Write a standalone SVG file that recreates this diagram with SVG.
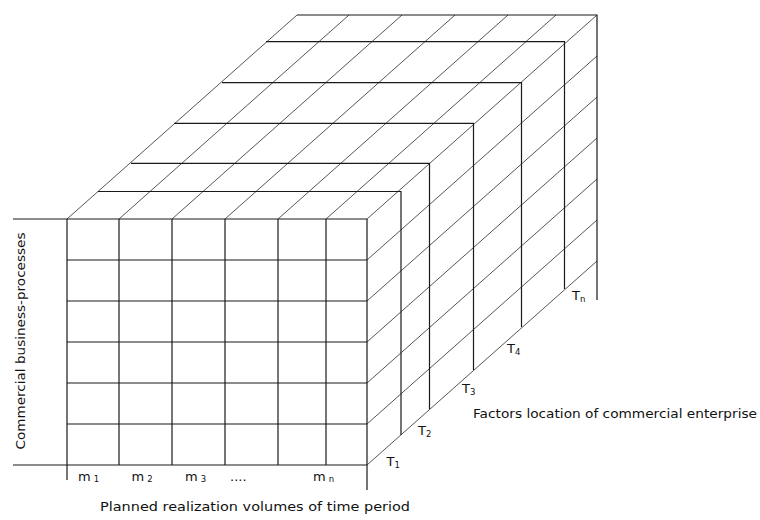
<svg xmlns="http://www.w3.org/2000/svg" width="760" height="520" viewBox="0 0 760 520">
<style>
.hv{stroke:#1a1a1a;stroke-width:1.2;fill:none}
.dg{stroke:#555;stroke-width:1;fill:none}
text{font-family:"DejaVu Sans","Liberation Sans",sans-serif;fill:#111}
.lbl{font-size:12.5px}
.ax{font-size:13px}
.sub{font-size:8.5px}
</style>
<rect width="760" height="520" fill="#fff"/>
<g id="connectors">
<!-- top face diagonals -->
<g class="dg">
<line x1="67" y1="219" x2="297" y2="15"/>
<line x1="119" y1="219" x2="349" y2="15"/>
<line x1="172" y1="219" x2="402" y2="15"/>
<line x1="225" y1="219" x2="455" y2="15"/>
<line x1="278" y1="219" x2="508" y2="15"/>
<line x1="326" y1="219" x2="556" y2="15"/>
<line x1="367" y1="219" x2="597" y2="15"/>
<!-- right face diagonals -->
<line x1="367" y1="260" x2="597" y2="56"/>
<line x1="367" y1="301" x2="597" y2="97"/>
<line x1="367" y1="342" x2="597" y2="138"/>
<line x1="367" y1="383" x2="597" y2="179"/>
<line x1="367" y1="424" x2="597" y2="220"/>
<line x1="367" y1="465" x2="597" y2="261"/>
</g>
</g>
<g id="front-face" class="hv">
<line x1="13" y1="219" x2="367" y2="219"/>
<line x1="67" y1="260" x2="367" y2="260"/>
<line x1="67" y1="301" x2="367" y2="301"/>
<line x1="67" y1="342" x2="367" y2="342"/>
<line x1="67" y1="383" x2="367" y2="383"/>
<line x1="67" y1="424" x2="367" y2="424"/>
<line x1="13" y1="465" x2="367" y2="465"/>
<line x1="67" y1="219" x2="67" y2="480"/>
<line x1="119" y1="219" x2="119" y2="465"/>
<line x1="172" y1="219" x2="172" y2="465"/>
<line x1="225" y1="219" x2="225" y2="465"/>
<line x1="278" y1="219" x2="278" y2="465"/>
<line x1="326" y1="219" x2="326" y2="465"/>
<line x1="367" y1="219" x2="367" y2="490"/>
</g>
<g id="slice-T2" class="hv">
<polyline points="98,191.5 401,191.5 401,435"/>
</g>
<g id="slice-T3" class="hv">
<polyline points="131,163.3 429.5,163.3 429.5,409"/>
</g>
<g id="slice-T4" class="hv">
<polyline points="174,123.3 473.5,123.3 473.5,370"/>
</g>
<g id="slice-T5" class="hv">
<polyline points="222,82.7 521.5,82.7 521.5,327"/>
</g>
<g id="slice-T6" class="hv">
<polyline points="266,41.7 564.5,41.7 564.5,289"/>
</g>
<g id="slice-Tn" class="hv">
<polyline points="297,15 597,15 597,300"/>
</g>
<g id="labels-m" class="ax">
<text x="78" y="481">m<tspan class="sub" dx="3" dy="1">1</tspan></text>
<text x="131.5" y="481">m<tspan class="sub" dx="3" dy="1">2</tspan></text>
<text x="185" y="481">m<tspan class="sub" dx="3" dy="1">3</tspan></text>
<text x="230" y="481">....</text>
<text x="313" y="481">m<tspan class="sub" dx="3" dy="1">n</tspan></text>
</g>
<g id="labels-T" class="ax">
<text x="386.5" y="466">T<tspan class="sub" dy="2">1</tspan></text>
<text x="418" y="435">T<tspan class="sub" dy="2">2</tspan></text>
<text x="462" y="393">T<tspan class="sub" dy="2">3</tspan></text>
<text x="507" y="353">T<tspan class="sub" dy="2">4</tspan></text>
<text x="572" y="300">T<tspan class="sub" dy="2">n</tspan></text>
</g>
<g id="axis-titles" class="lbl">
<text x="473" y="418" textLength="284" lengthAdjust="spacingAndGlyphs">Factors location of commercial enterprise</text>
<text x="100" y="511" textLength="310" lengthAdjust="spacingAndGlyphs">Planned realization volumes of time period</text>
<text transform="translate(25,341) rotate(-90)" text-anchor="middle" textLength="217" lengthAdjust="spacingAndGlyphs">Commercial business-processes</text>
</g>
</svg>
